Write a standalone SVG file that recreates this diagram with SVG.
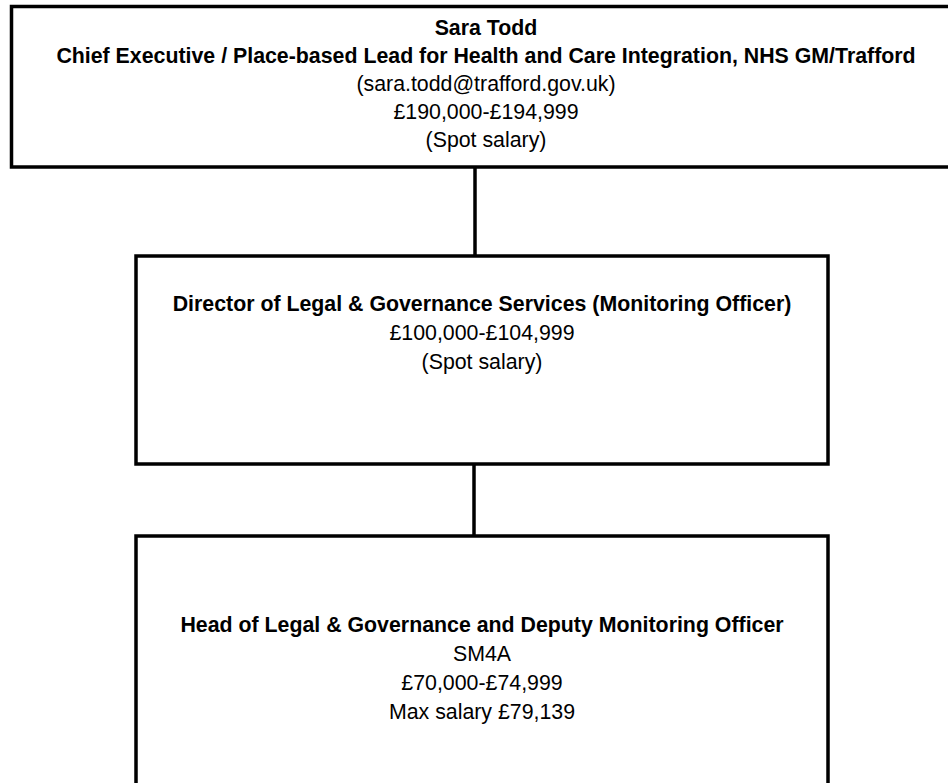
<svg xmlns="http://www.w3.org/2000/svg" width="948" height="783" viewBox="0 0 948 783">
<style>
.box{fill:#fff;stroke:#000;stroke-width:3.5}
.t{font-family:"Liberation Sans",Arial,sans-serif;font-size:21.33px;text-anchor:middle;fill:#000}
.b{font-weight:bold}
.c{stroke:#000;stroke-width:3.5;fill:none}
</style>
<rect width="948" height="783" fill="#fff"/>
<g id="connectors">
<line class="c" x1="475" y1="167" x2="475" y2="256"/>
<line class="c" x1="474" y1="464" x2="474" y2="536"/>
</g>
<g id="ceo">
<rect class="box" x="11.5" y="6.5" width="950" height="160.5"/>
<text class="t b" x="486" y="35">Sara Todd</text>
<text class="t b" x="486" y="63">Chief Executive / Place-based Lead for Health and Care Integration, NHS GM/Trafford</text>
<text class="t" x="486" y="91">(sara.todd@trafford.gov.uk)</text>
<text class="t" x="486" y="119">£190,000-£194,999</text>
<text class="t" x="486" y="147">(Spot salary)</text>
</g>
<g id="director">
<rect class="box" x="136" y="256" width="692" height="208"/>
<text class="t b" x="482" y="311">Director of Legal &amp; Governance Services (Monitoring Officer)</text>
<text class="t" x="482" y="340">£100,000-£104,999</text>
<text class="t" x="482" y="369">(Spot salary)</text>
</g>
<g id="head">
<rect class="box" x="136" y="536" width="692" height="260"/>
<text class="t b" x="482" y="632">Head of Legal &amp; Governance and Deputy Monitoring Officer</text>
<text class="t" x="482" y="661">SM4A</text>
<text class="t" x="482" y="690">£70,000-£74,999</text>
<text class="t" x="482" y="719">Max salary £79,139</text>
</g>
</svg>
